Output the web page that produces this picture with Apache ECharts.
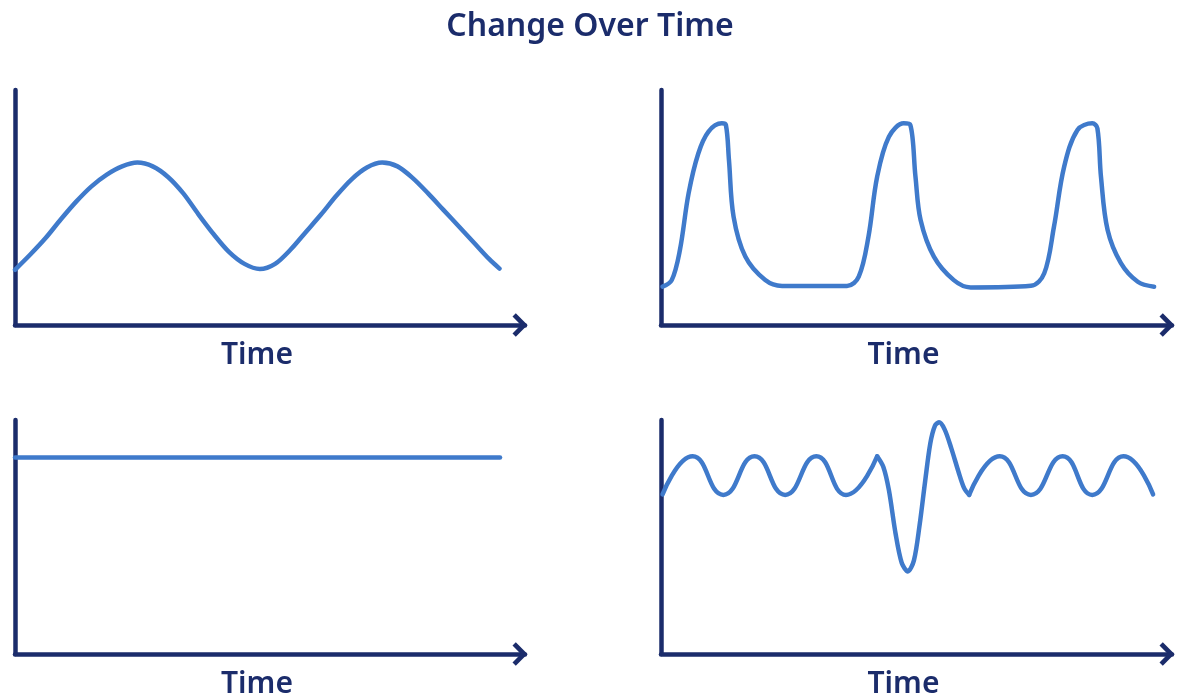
<!DOCTYPE html>
<html>
<head>
<meta charset="utf-8">
<script src="https://cdn.jsdelivr.net/npm/echarts@6/dist/echarts.min.js"></script>
<style>
  html, body { margin: 0; padding: 0; background: #fff; }
  #chart { width: 1180px; height: 700px; }
</style>
</head>
<body>
<div id="chart"></div>
<script>
// four small panels, time on x (0-100), value on y (0-100)
const wavePoints = [
  [0, 23.5], [3, 30], [6, 37], [9, 45], [12, 52.5], [15, 59], [18, 64], [21, 67.5],
  [24, 69.1], [27, 67.5], [30, 63], [33, 56], [36, 47], [39, 38.5], [42, 31], [45, 26],
  [48, 23.8], [51, 26], [54, 32], [57, 39.5], [60, 47], [63, 55], [66, 62], [69, 67],
  [72, 69.1], [75, 67.5], [78, 62.5], [81, 56], [84, 49], [87, 42], [90, 35], [93, 28],
  [95, 24]
]
const pulsePoints = [
  [0.3, 16.3], [2.1, 19.1], [3.7, 31.9], [5.4, 56], [7.3, 73], [9.3, 82.3], [11.9, 85.8],
  [12.7, 85.1], [13.3, 70.2], [14.2, 46.1], [16.5, 29.1], [20.4, 19.1], [23.7, 16.6],
  [36.4, 16.6], [38.7, 20.6], [40.6, 37.6], [42.3, 63.1], [44.6, 80.1], [47.5, 85.8],
  [48.8, 85.1], [49.8, 63.1], [50.8, 44.7], [53.4, 29.1], [57.3, 19.1], [60.6, 16.0],
  [72.4, 16.7], [75.0, 22.0], [76.9, 41.8], [78.9, 67.4], [81.5, 83], [84.4, 85.8],
  [85.4, 83.7], [86.1, 63.1], [87.4, 40.4], [90.0, 26.3], [93.3, 18.4], [96.5, 16.3]
]
const flatPoints = [[0, 84], [95.1, 84]]
// steady wiggle, then one big swing, then steady again
const wiggleBefore = [
  [0.3, 68.2], [6.2, 84.5], [12.2, 68], [18.3, 84.5], [24.3, 68], [30.4, 84.5],
  [36.2, 68], [42.3, 84.5]
]
const swingPoints = [
  [42.3, 84.5], [43.5, 80], [44.6, 70], [45.9, 51.5], [47.1, 39], [48.3, 35.3],
  [49.5, 40], [50.6, 55], [51.7, 74], [52.7, 90], [53.6, 97.5], [54.4, 99],
  [55.5, 96], [56.8, 88], [58.2, 78], [59.3, 71], [60.3, 68]
]
const wiggleAfter = [
  [60.3, 68], [66.3, 84.5], [72.4, 68], [78.6, 84.5], [84.4, 68], [90.5, 84.5],
  [96.3, 68.2]
]
const xName = 'Time'

const navy = '#1b2c6b'
const lineBlue = '#3f7acb'
const chevron = 'path://M0,12 L12,0 L24,12 L20.6,15.4 L12,6.8 L3.4,15.4 Z'

const grids = [
  { left: 15, top: 90, width: 510, height: 235 },
  { left: 661, top: 90, width: 511, height: 235 },
  { left: 15, top: 420, width: 510, height: 237 },
  { left: 661, top: 420, width: 511, height: 237 }
]

// [data, panel index, smoothness]
const lines = [
  [wavePoints, 0, 0.3],
  [pulsePoints, 1, 0.35],
  [flatPoints, 2, 0],
  [wiggleBefore, 3, 0.5],
  [swingPoints, 3, 0.3],
  [wiggleAfter, 3, 0.5]
]

const chart = echarts.init(document.getElementById('chart'))

chart.setOption({
  animation: false,
  title: {
    text: 'Change Over Time',
    left: 'center',
    top: 6,
    padding: [5, 0, 5, 14],
    textStyle: { color: navy, fontFamily: 'Noto Sans', fontWeight: 600, fontSize: 32 }
  },
  grid: grids,
  xAxis: grids.map((g, i) => ({
    gridIndex: i,
    type: 'value',
    min: 0,
    max: 100,
    name: xName,
    nameLocation: 'middle',
    nameGap: 15,
    nameTextStyle: {
      color: navy, fontFamily: 'Noto Sans', fontWeight: 600, fontSize: 30,
      verticalAlign: 'top', padding: [0, 26, 0, 0]
    },
    axisLine: {
      show: true,
      onZero: false,
      symbol: ['none', chevron],
      symbolSize: [26, 15],
      symbolOffset: [0, -5],
      lineStyle: { color: navy, width: 4.5 }
    },
    axisTick: { show: false },
    axisLabel: { show: false },
    splitLine: { show: false }
  })),
  yAxis: grids.map((g, i) => ({
    gridIndex: i,
    type: 'value',
    min: 0,
    max: 100,
    axisLine: { show: true, onZero: false, lineStyle: { color: navy, width: 4.5 } },
    axisTick: { show: false },
    axisLabel: { show: false },
    splitLine: { show: false }
  })),
  series: lines.map(([data, i, smooth]) => ({
    type: 'line',
    xAxisIndex: i,
    yAxisIndex: i,
    data: data,
    smooth: smooth,
    showSymbol: false,
    lineStyle: { color: lineBlue, width: 4.5, cap: 'round', join: 'round' },
    z: 1
  }))
})
</script>
</body>
</html>
